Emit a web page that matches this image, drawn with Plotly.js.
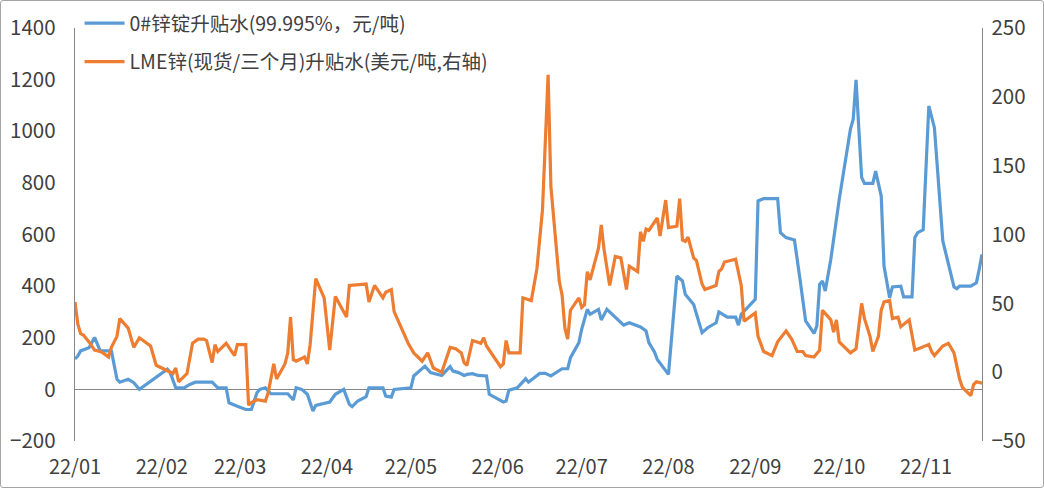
<!DOCTYPE html>
<html>
<head>
<meta charset="utf-8">
<script src="https://cdn.plot.ly/plotly-3.0.1.min.js"></script>
<style>
html,body{margin:0;padding:0;background:#fff;}
#wrap{position:relative;width:1044px;height:488px;}
#chart{width:1044px;height:488px;}
#frame{position:absolute;left:0;top:0;width:1042px;height:486px;border:1px solid #a6a6a6;border-radius:3px;pointer-events:none;}
</style>
</head>
<body>
<div id="wrap"><div id="chart"></div><div id="frame"></div></div>
<script>
const seriesNames = ["0#锌锭升贴水(99.995%，元/吨)", "LME锌(现货/三个月)升贴水(美元/吨,右轴)"];

const spotDates = ["2022-01-01","2022-01-02","2022-01-03","2022-01-06","2022-01-08","2022-01-10","2022-01-14","2022-01-16","2022-01-17","2022-01-20","2022-01-22","2022-01-24","2022-02-03","2022-02-04","2022-02-06","2022-02-09","2022-02-11","2022-02-13","2022-02-19","2022-02-21","2022-02-24","2022-02-25","2022-02-28","2022-03-03","2022-03-05","2022-03-07","2022-03-08","2022-03-10","2022-03-12","2022-03-18","2022-03-20","2022-03-21","2022-03-23","2022-03-25","2022-03-27","2022-03-28","2022-04-02","2022-04-04","2022-04-07","2022-04-09","2022-04-10","2022-04-12","2022-04-15","2022-04-16","2022-04-21","2022-04-22","2022-04-24","2022-04-25","2022-05-01","2022-05-02","2022-05-06","2022-05-08","2022-05-12","2022-05-15","2022-05-16","2022-05-18","2022-05-20","2022-05-21","2022-05-23","2022-05-25","2022-05-28","2022-05-29","2022-06-03","2022-06-04","2022-06-05","2022-06-08","2022-06-11","2022-06-12","2022-06-16","2022-06-18","2022-06-20","2022-06-24","2022-06-26","2022-06-27","2022-06-30","2022-07-01","2022-07-03","2022-07-04","2022-07-07","2022-07-08","2022-07-10","2022-07-13","2022-07-16","2022-07-18","2022-07-22","2022-07-24","2022-07-25","2022-07-27","2022-07-28","2022-08-01","2022-08-04","2022-08-06","2022-08-07","2022-08-10","2022-08-13","2022-08-15","2022-08-18","2022-08-19","2022-08-22","2022-08-25","2022-08-26","2022-08-27","2022-09-01","2022-09-02","2022-09-04","2022-09-09","2022-09-10","2022-09-12","2022-09-15","2022-09-17","2022-09-19","2022-09-22","2022-09-23","2022-09-24","2022-09-25","2022-09-26","2022-09-28","2022-10-01","2022-10-05","2022-10-06","2022-10-07","2022-10-09","2022-10-10","2022-10-13","2022-10-14","2022-10-16","2022-10-17","2022-10-19","2022-10-20","2022-10-23","2022-10-24","2022-10-27","2022-10-28","2022-10-29","2022-10-31","2022-11-02","2022-11-04","2022-11-07","2022-11-11","2022-11-12","2022-11-13","2022-11-17","2022-11-18","2022-11-19","2022-11-20","2022-11-21"];
const spotValues = [118,129,149,161,201,149,149,39,28,39,26,0,78,65,6,6,19,28,28,6,6,-52,-65,-78,-78,-13,0,6,-17,-17,-41,6,0,-19,-84,-62,-49,-19,0,-58,-67,-45,-28,6,6,-26,-30,0,6,52,90,65,54,88,71,65,54,58,61,54,52,-19,-49,-45,-3,6,41,28,62,62,52,80,80,123,181,233,310,291,310,269,310,278,249,258,242,226,181,145,116,58,439,420,368,329,220,239,258,300,280,280,249,291,349,730,739,739,607,588,579,426,265,217,245,407,420,381,504,736,1008,1047,1199,821,798,798,846,749,478,355,397,400,358,358,588,607,618,1098,1014,575,397,390,400,400,407,413,465,523];

const lmeDates = ["2022-01-01","2022-01-02","2022-01-03","2022-01-04","2022-01-06","2022-01-08","2022-01-10","2022-01-11","2022-01-13","2022-01-14","2022-01-16","2022-01-17","2022-01-20","2022-01-22","2022-01-24","2022-01-27","2022-01-28","2022-01-30","2022-01-31","2022-02-03","2022-02-05","2022-02-06","2022-02-07","2022-02-10","2022-02-12","2022-02-14","2022-02-16","2022-02-17","2022-02-19","2022-02-20","2022-02-21","2022-02-24","2022-02-27","2022-02-28","2022-03-03","2022-03-04","2022-03-05","2022-03-07","2022-03-10","2022-03-11","2022-03-13","2022-03-14","2022-03-17","2022-03-18","2022-03-19","2022-03-20","2022-03-21","2022-03-24","2022-03-25","2022-03-26","2022-03-28","2022-03-31","2022-04-02","2022-04-04","2022-04-08","2022-04-09","2022-04-15","2022-04-16","2022-04-18","2022-04-21","2022-04-22","2022-04-24","2022-04-25","2022-04-30","2022-05-02","2022-05-05","2022-05-07","2022-05-09","2022-05-12","2022-05-13","2022-05-15","2022-05-17","2022-05-19","2022-05-20","2022-05-21","2022-05-23","2022-05-26","2022-05-27","2022-05-28","2022-06-02","2022-06-03","2022-06-04","2022-06-05","2022-06-09","2022-06-10","2022-06-13","2022-06-15","2022-06-17","2022-06-18","2022-06-19","2022-06-20","2022-06-23","2022-06-24","2022-06-25","2022-06-26","2022-06-27","2022-06-30","2022-07-01","2022-07-02","2022-07-03","2022-07-04","2022-07-07","2022-07-08","2022-07-09","2022-07-11","2022-07-13","2022-07-15","2022-07-17","2022-07-18","2022-07-21","2022-07-22","2022-07-23","2022-07-24","2022-07-25","2022-07-28","2022-07-29","2022-07-31","2022-08-01","2022-08-04","2022-08-05","2022-08-06","2022-08-07","2022-08-08","2022-08-10","2022-08-11","2022-08-13","2022-08-14","2022-08-18","2022-08-19","2022-08-20","2022-08-21","2022-08-25","2022-08-27","2022-08-28","2022-09-01","2022-09-02","2022-09-04","2022-09-07","2022-09-09","2022-09-12","2022-09-13","2022-09-14","2022-09-16","2022-09-18","2022-09-19","2022-09-22","2022-09-24","2022-09-25","2022-09-28","2022-09-29","2022-09-30","2022-10-01","2022-10-05","2022-10-07","2022-10-09","2022-10-10","2022-10-12","2022-10-13","2022-10-15","2022-10-16","2022-10-17","2022-10-19","2022-10-20","2022-10-22","2022-10-23","2022-10-26","2022-10-28","2022-11-02","2022-11-03","2022-11-04","2022-11-07","2022-11-09","2022-11-11","2022-11-13","2022-11-14","2022-11-17","2022-11-18","2022-11-19","2022-11-21"];
const lmeValues = [51,35,28,27,22,16,15,14,11,18,26,39,32,18,25,20,19,5,4,1,-1,3,-7,-1,21,24,24,23,7,20,15,21,12,20,20,-24,-22,-20,-21,-15,6,-5,6,14,40,9,8,11,6,20,68,54,16,55,40,63,64,51,63,54,58,60,44,21,14,8,14,3,0,6,18,17,14,7,5,23,21,25,19,4,6,23,14,14,54,52,75,118,166,216,135,66,56,32,24,45,54,47,49,73,67,90,107,89,63,84,83,60,77,73,102,95,104,103,112,99,125,105,106,126,96,95,98,83,81,64,60,63,73,75,80,82,63,37,43,26,15,12,22,30,27,24,15,15,12,11,16,45,38,29,38,22,14,17,50,39,26,15,26,45,51,52,39,40,33,38,16,20,15,12,19,21,14,-5,-11,-17,-9,-7,-8];

const leftTicks = [-200,0,200,400,600,800,1000,1200,1400];
const rightTicks = [-50,0,50,100,150,200,250];

const fontFam = '"Noto Sans CJK SC","Noto Sans",sans-serif';
const traces = [
  {x: spotDates, y: spotValues, name: seriesNames[0], type:'scatter', mode:'lines',
   line:{color:'#5B9BD5', width:3.2}, legendgroup:'a', yaxis:'y'},
  {x: lmeDates, y: lmeValues, name: seriesNames[1], type:'scatter', mode:'lines',
   line:{color:'#ED7D31', width:3.2}, legendgroup:'b', yaxis:'y2'}
];
const layout = {
  width:1044, height:488,
  margin:{l:75, r:62, t:28, b:47, autoexpand:false},
  paper_bgcolor:'#fff', plot_bgcolor:'rgba(0,0,0,0)',
  font:{family:fontFam, color:'#404040', size:20},
  showlegend:true,
  legend:{x:0.005, y:1.058, xanchor:'left', yanchor:'top', bgcolor:'rgba(0,0,0,0)',
    font:{size:19.5, color:'#404040', family:fontFam}, tracegroupgap:10, itemwidth:40},
  xaxis:{type:'date', range:['2022-01-01','2022-11-21'], dtick:'M1', tick0:'2022-01-01',
    tickformat:'%y/%m', showgrid:false, showline:false, zeroline:false, ticks:'',
    ticklabelstandoff:12, tickfont:{size:20, color:'#404040'}, automargin:false},
  yaxis:{range:[-200,1400], tickvals:leftTicks, showgrid:false, showline:true,
    linecolor:'#868686', linewidth:1.3, zeroline:true, zerolinecolor:'#868686', zerolinewidth:1.3,
    ticks:'', ticklabelstandoff:14, tickfont:{size:20.5, color:'#404040'}, automargin:false},
  yaxis2:{range:[-50,250], tickvals:rightTicks, overlaying:'y', side:'right', showgrid:false,
    showline:true, linecolor:'#868686', linewidth:1.3, zeroline:false, ticks:'',
    ticklabelstandoff:4, tickfont:{size:20.5, color:'#404040'}, automargin:false}
};
Plotly.newPlot('chart', traces, layout, {displayModeBar:false, staticPlot:true});
</script>
</body>
</html>
